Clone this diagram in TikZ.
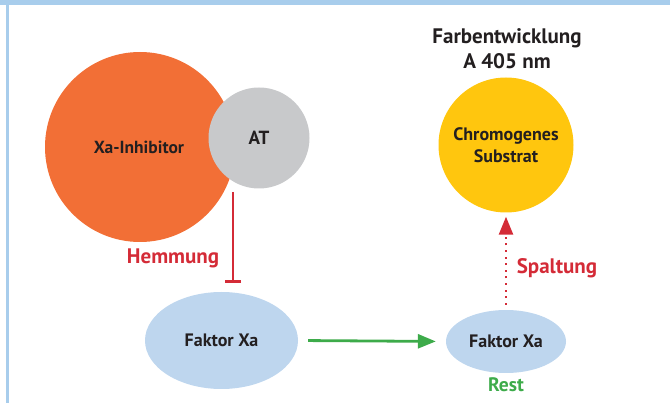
\documentclass[tikz,border=0pt]{standalone}
\usepackage{fontspec}
\setmainfont{PT Sans}
\usetikzlibrary{arrows.meta,shapes.geometric,calc}
\definecolor{frameblue}{HTML}{A8CDEC}
\definecolor{orangec}{HTML}{F26F36}
\definecolor{grayc}{HTML}{C8C9CB}
\definecolor{yellowc}{HTML}{FFC60E}
\definecolor{bluec}{HTML}{BED6EE}
\definecolor{redc}{HTML}{D42B37}
\definecolor{greenc}{HTML}{3DAB4A}
\definecolor{textc}{HTML}{231F20}
\tikzset{
  blob/.style={circle, inner sep=0pt, text=textc, font=\bfseries\fontsize{18}{22}\selectfont, align=center},
  oval/.style={ellipse, fill=bluec, inner sep=0pt, text=textc, font=\bfseries\fontsize{18}{21}\selectfont},
  lab/.style={font=\bfseries\fontsize{21}{25}\selectfont, inner sep=0pt},
}
\begin{document}
\begin{tikzpicture}[x=1pt,y=-1pt]
\useasboundingbox (0,0) rectangle (670,403);
% frame
\fill[frameblue] (0,0) rectangle (670,5);
\fill[frameblue] (6,5) rectangle (9,403);
% shapes
\node[blob, fill=orangec, minimum size=190pt] (inh) at (140,147) {};
\node[font=\bfseries\fontsize{17.5}{21}\selectfont, text=textc] (inhtxt) at (139,147) {Xa-Inhibitor};
\node[blob, fill=grayc, minimum size=101pt, font=\bfseries\fontsize{19}{22}\selectfont] (at) at (259,138) {AT};
\node[blob, fill=yellowc, minimum size=135pt] (sub) at (506,145) {Chromogenes\\Substrat};
\node[lab, text=textc, align=center] (farb) at (507,49) {Farbentwicklung\\A 405 nm};
\node[oval, minimum width=153pt, minimum height=97pt] (fx1) at (221.5,340.5) {Faktor Xa};
\node[oval, minimum width=120pt, minimum height=63pt] (fx2) at (506,341.5) {Faktor Xa};
% labels
\node[lab, text=redc] (hem) at (173,258) {Hemmung};
\node[lab, text=redc] (spal) at (557,268) {Spaltung};
\node[lab, text=greenc, font=\bfseries\fontsize{19.5}{23}\selectfont] (rest) at (506,385) {Rest};
% connectors
\coordinate (hs) at (233,192);
\coordinate (he) at (233,283);
\draw[redc, line width=2.5pt, -{Bar[width=16pt,line width=2.5pt]}] (hs) -- (he);
\draw[greenc, line width=2.8pt, -{Triangle[length=18pt,width=14pt]}, shorten <=10pt, shorten >=10pt] (fx1.east) -- (fx2.west);
\draw[redc, line width=2.5pt, dash pattern=on 2pt off 4.6pt, -{Triangle[length=18pt,width=14pt]}, shorten <=5pt, shorten >=4pt] (fx2.north) -- (sub.south);
\end{tikzpicture}
\end{document}
